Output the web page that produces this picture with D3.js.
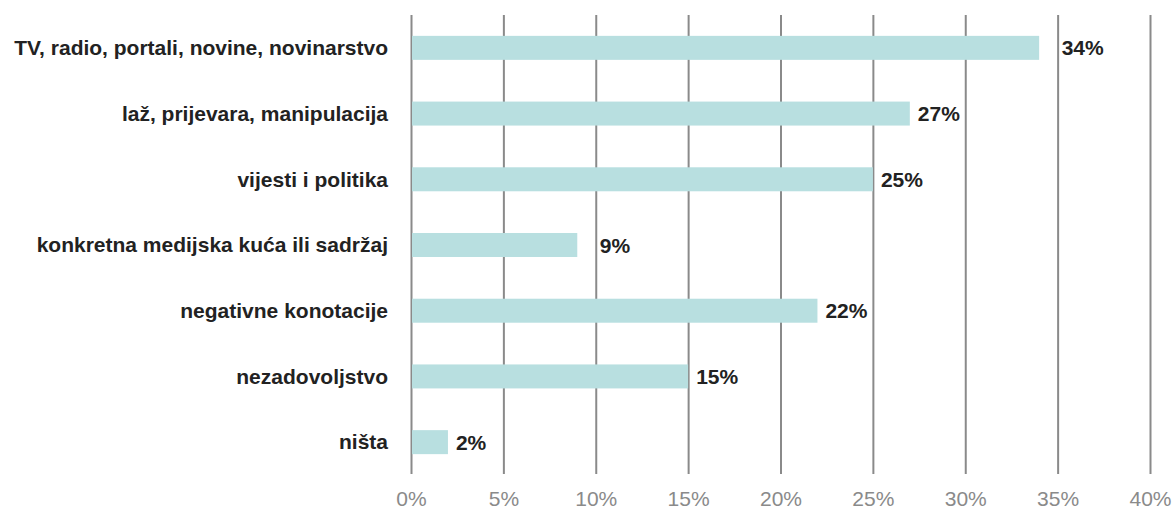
<!DOCTYPE html>
<html>
<head>
<meta charset="utf-8">
<script src="https://cdn.jsdelivr.net/npm/d3@7"></script>
<style>
  body { margin: 0; background: #fff; }
  svg { display: block; font-family: "Liberation Sans", Arial, Helvetica, sans-serif; }
</style>
</head>
<body>
<div id="chart"></div>
<script>
// podaci
var categories = [
  "TV, radio, portali, novine, novinarstvo",
  "laž, prijevara, manipulacija",
  "vijesti i politika",
  "konkretna medijska kuća ili sadržaj",
  "negativne konotacije",
  "nezadovoljstvo",
  "ništa"
];
var values = [34, 27, 25, 9, 22, 15, 2];
var ticks = [0, 5, 10, 15, 20, 25, 30, 35, 40];

var width = 1173, height = 509;
var plotLeft = 411, plotRight = 1150, plotTop = 15, plotBottom = 475;

var svg = d3.select("#chart").append("svg")
  .attr("width", width)
  .attr("height", height);

var x = d3.scaleLinear().domain([0, 40]).range([plotLeft, plotRight]);
var y = d3.scaleBand().domain(categories).range([plotTop, plotBottom])
  .paddingInner(0.635).paddingOuter(0.3175);

// mreža + oznake osi
var axis = svg.append("g")
  .attr("transform", "translate(0," + (plotBottom - 1) + ")")
  .call(d3.axisBottom(x).tickValues(ticks)
    .tickSize(-(plotBottom - 1 - plotTop))
    .tickFormat(function(d) { return d + "%"; }));
axis.select(".domain").remove();
axis.selectAll(".tick line")
  .attr("stroke", "#8a8a8a")
  .attr("stroke-width", 2);
axis.selectAll(".tick text")
  .attr("y", 32).attr("dy", 0)
  .attr("fill", "#8a8a8a")
  .style("font-size", "21px");

// stupci
var data = categories.map(function(c, i) { return { cat: c, val: values[i] }; });

svg.append("g").selectAll("rect")
  .data(data).enter().append("rect")
  .attr("x", x(0) + 1)
  .attr("y", function(d) { return y(d.cat); })
  .attr("width", function(d) { return x(d.val) - x(0) - 1; })
  .attr("height", y.bandwidth())
  .attr("fill", "#b8dfe0");

// nazivi kategorija
svg.append("g").selectAll("text")
  .data(data).enter().append("text")
  .attr("x", 388)
  .attr("y", function(d) { return y(d.cat) + y.bandwidth() / 2; })
  .attr("dy", "0.35em")
  .attr("text-anchor", "end")
  .attr("fill", "#222")
  .style("font-size", "21px")
  .style("font-weight", "bold")
  .text(function(d) { return d.cat; });

// vrijednosti, pomaknute iza linije mreže ako bi je prekrile
var labelW = 44;
function labelX(v) {
  var lx = x(v) + 8;
  ticks.forEach(function(t) {
    var gx = x(t);
    if (gx > lx - 6 && gx < lx + labelW) lx = gx + 4;
  });
  return lx;
}

svg.append("g").selectAll("text")
  .data(data).enter().append("text")
  .attr("x", function(d) { return labelX(d.val); })
  .attr("y", function(d) { return y(d.cat) + y.bandwidth() / 2; })
  .attr("dy", "0.36em")
  .attr("fill", "#222")
  .style("font-size", "21px")
  .style("font-weight", "bold")
  .text(function(d) { return d.val + "%"; });
</script>
</body>
</html>
